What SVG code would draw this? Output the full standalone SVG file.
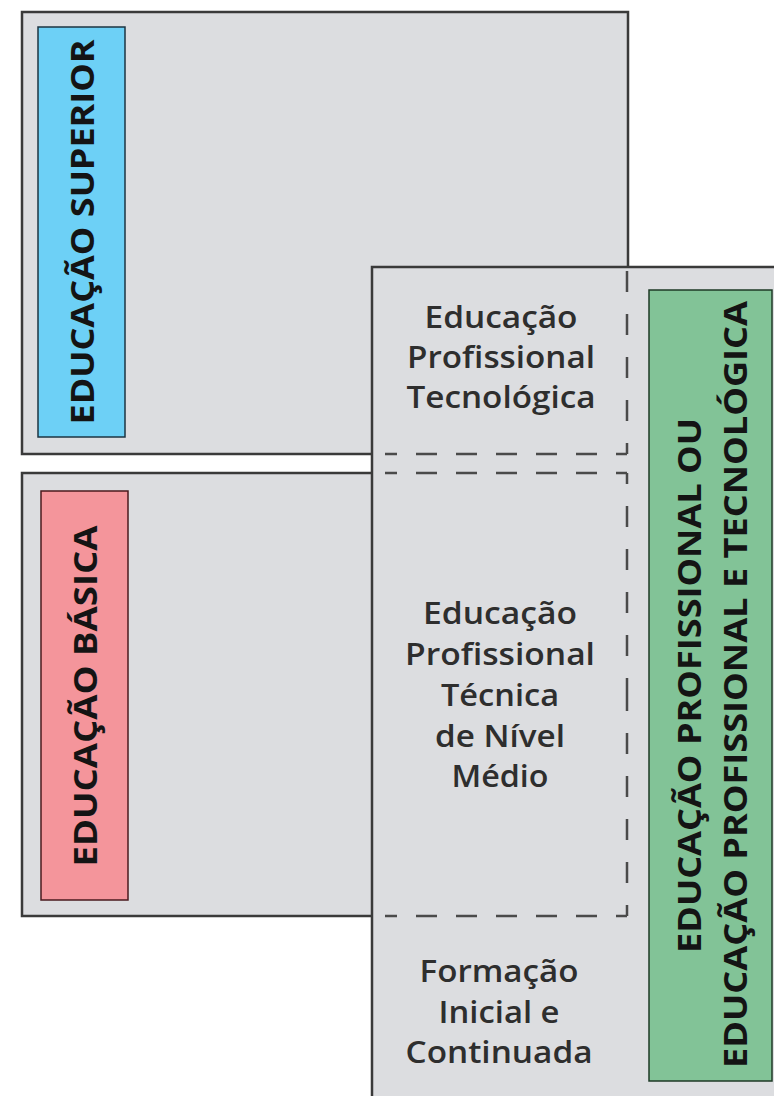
<svg xmlns="http://www.w3.org/2000/svg" width="774" height="1096" viewBox="0 0 774 1096">
  <style>
    .box { fill: #dcdde0; stroke: #3a3a3a; stroke-width: 2.5; }
    .label { font-family: "Open Sans", "Liberation Sans", sans-serif; font-weight: 700; font-size: 33px; fill: #141414; text-anchor: middle; }
    .body { font-family: "Open Sans", "Liberation Sans", sans-serif; font-weight: 600; font-size: 31px; fill: #2e2e2e; text-anchor: middle; }
    .dash { fill: none; stroke: #4a4a4a; stroke-width: 2.5; }
    .dh { stroke-dasharray: 21 19; stroke-dashoffset: 10; }
    .dv { stroke-dasharray: 21 22; stroke-dashoffset: 10; }
  </style>
  <rect width="774" height="1096" fill="#ffffff"/>

  <g id="educacao-superior">
    <rect class="box" x="22" y="12" width="606" height="442"/>
    <rect x="38" y="27" width="87" height="410" fill="#6dd0f6" stroke="#1d3442" stroke-width="1.5"/>
    <text class="label" transform="translate(94,232) rotate(-90)" textLength="385" lengthAdjust="spacingAndGlyphs">EDUCAÇÃO SUPERIOR</text>
  </g>

  <g id="educacao-basica">
    <rect class="box" x="22" y="473" width="606" height="443"/>
    <rect x="41" y="491" width="87" height="409" fill="#f4959b" stroke="#4a1a1e" stroke-width="1.5"/>
    <text class="label" transform="translate(97,696) rotate(-90)" textLength="341" lengthAdjust="spacingAndGlyphs">EDUCAÇÃO BÁSICA</text>
  </g>

  <g id="educacao-profissional">
    <rect class="box" x="372" y="267" width="430" height="860"/>
    <rect x="649" y="290" width="123" height="791" fill="#82c397" stroke="#1e3a26" stroke-width="1.5"/>
    <text class="label" transform="translate(701,685.5) rotate(-90)" textLength="535" lengthAdjust="spacingAndGlyphs">EDUCAÇÃO PROFISSIONAL OU</text>
    <text class="label" transform="translate(747,684.5) rotate(-90)" textLength="767" lengthAdjust="spacingAndGlyphs">EDUCAÇÃO PROFISSIONAL E TECNOLÓGICA</text>
  </g>

  <g id="connectors">
    <path class="dash dv" d="M627,454 V268"/>
    <path class="dash dh" d="M627,454 H385"/>
    <path class="dash dh" d="M627,473 H385"/>
    <path class="dash dv" d="M627,473 V695"/>
    <path class="dash dv" d="M627,916 V695"/>
    <path class="dash dh" d="M627,916 H385"/>
  </g>

  <g id="profissional-tecnologica">
    <text class="body" x="501" y="328" textLength="153" lengthAdjust="spacingAndGlyphs">Educação</text>
    <text class="body" x="501" y="368" textLength="188" lengthAdjust="spacingAndGlyphs">Profissional</text>
    <text class="body" x="501" y="408" textLength="189" lengthAdjust="spacingAndGlyphs">Tecnológica</text>
  </g>

  <g id="profissional-tecnica">
    <text class="body" x="500" y="624" textLength="154" lengthAdjust="spacingAndGlyphs">Educação</text>
    <text class="body" x="500" y="665" textLength="190" lengthAdjust="spacingAndGlyphs">Profissional</text>
    <text class="body" x="500" y="706" textLength="118" lengthAdjust="spacingAndGlyphs">Técnica</text>
    <text class="body" x="500" y="747" textLength="130" lengthAdjust="spacingAndGlyphs">de Nível</text>
    <text class="body" x="500" y="787" textLength="97" lengthAdjust="spacingAndGlyphs">Médio</text>
  </g>

  <g id="formacao-inicial">
    <text class="body" x="499" y="982" textLength="159" lengthAdjust="spacingAndGlyphs">Formação</text>
    <text class="body" x="499" y="1023" textLength="121" lengthAdjust="spacingAndGlyphs">Inicial e</text>
    <text class="body" x="499" y="1063" textLength="187" lengthAdjust="spacingAndGlyphs">Continuada</text>
  </g>
</svg>
